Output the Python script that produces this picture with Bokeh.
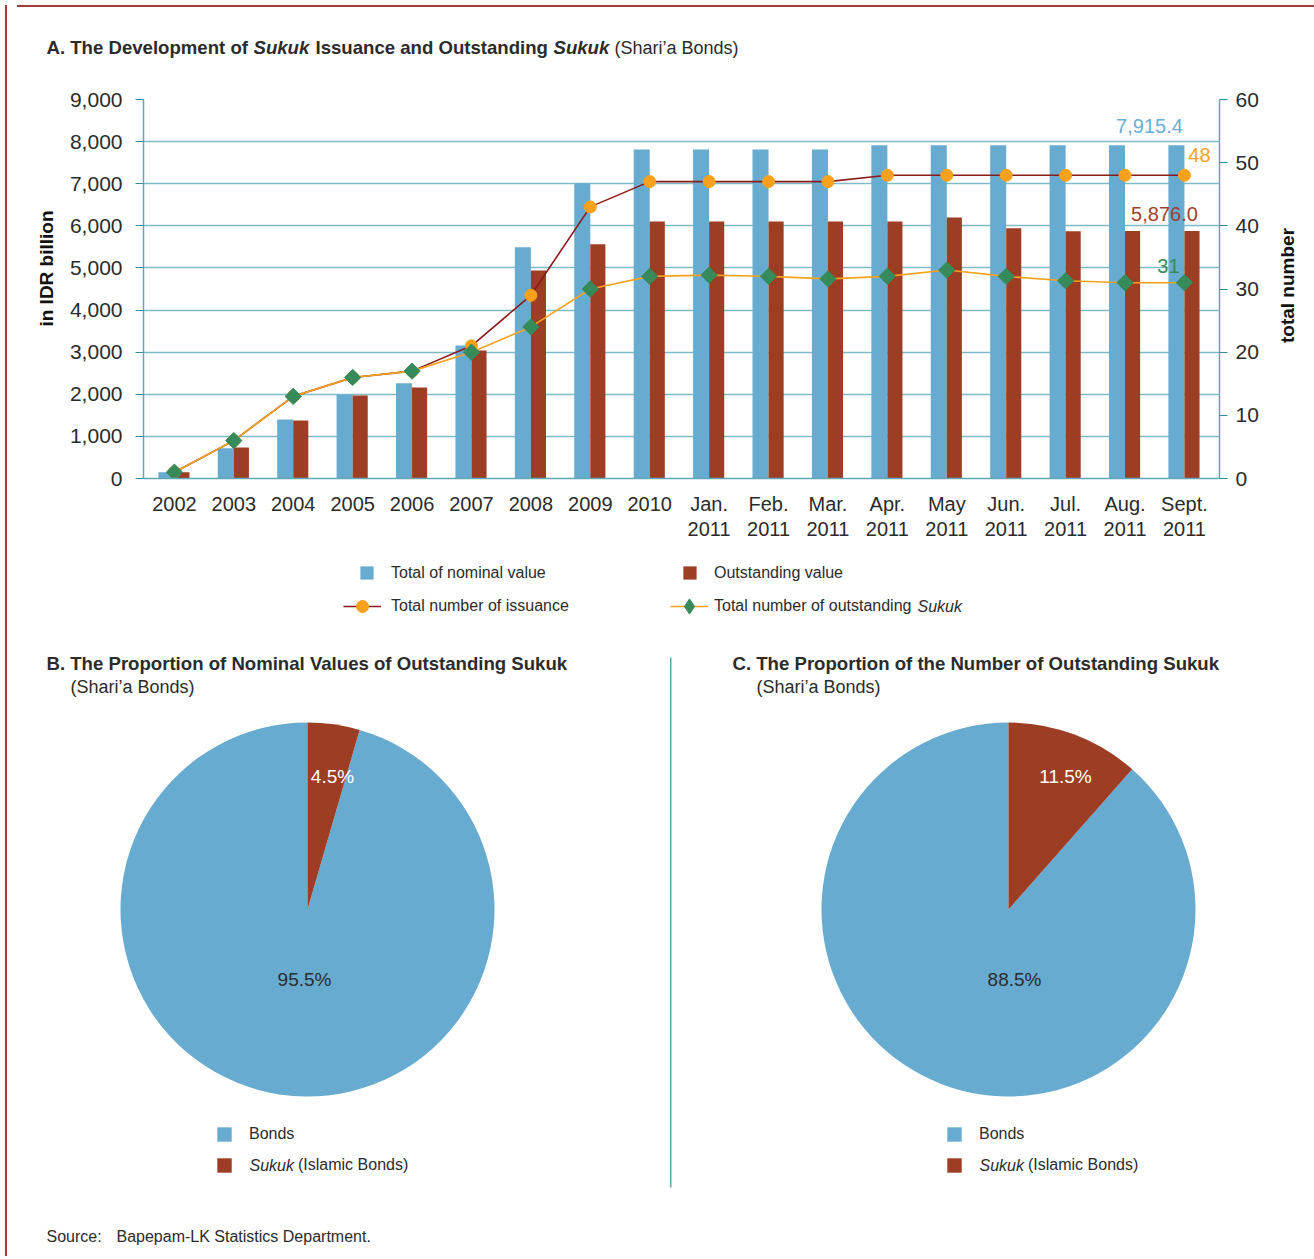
import math
from bokeh.plotting import figure
from bokeh.models import (Range1d, LinearAxis, Label, Legend, LegendItem, ColumnDataSource,
                          FixedTicker, NumeralTickFormatter, BoxAnnotation, Div)
from bokeh.layouts import column, row
from bokeh.transform import dodge
from bokeh.embed import file_html
from bokeh.resources import INLINE

# ---------------- data ----------------
periods = ["2002", "2003", "2004", "2005", "2006", "2007", "2008", "2009", "2010",
           "Jan.\n2011", "Feb.\n2011", "Mar.\n2011", "Apr.\n2011", "May\n2011",
           "Jun.\n2011", "Jul.\n2011", "Aug.\n2011", "Sept.\n2011"]
nominal_value = [150, 720, 1400, 1995, 2260, 3160, 5490, 7010, 7815, 7815, 7815, 7815,
                 7915.4, 7915.4, 7915.4, 7915.4, 7915.4, 7915.4]
outstanding_value = [150, 736, 1380, 1970, 2160, 3040, 4940, 5560, 6105, 6105, 6105, 6105,
                     6105, 6200, 5940, 5870, 5876.0, 5876.0]
issuance_count = [1, 6, 13, 16, 17, 21, 29, 43, 47, 47, 47, 47, 48, 48, 48, 48, 48, 48]
outstanding_count = [1, 6, 13, 16, 17, 20, 24, 30, 32, 32.2, 32, 31.6, 32, 33, 32, 31.3, 31, 31]
left_ticks = [0, 1000, 2000, 3000, 4000, 5000, 6000, 7000, 8000, 9000]
right_ticks = [0, 10, 20, 30, 40, 50, 60]

pie_labels = ["Bonds", "Sukuk (Islamic Bonds)"]
pie_b_share = [95.5, 4.5]
pie_c_share = [88.5, 11.5]

# ---------------- style ----------------
FONT = "Liberation Sans"
BLUE = "#67abd1"
RED = "#9c3d24"
DARKRED = "#8b1a1a"
ORANGE = "#f7a11c"
GREEN = "#378a5a"
TEAL = "#5fa8b5"
GRID = "#7dbcc7"
TXT = "#2b2b2b"
BORDER = "#a83a3a"

W = 1304
LLAB_W = 45                    # strip left of the chart holding "in IDR billion"
RLAB_W = 45                    # strip right of the chart holding "total number"
HEAD_H, BAR_H, LEG_H, BOT_H = 70, 468, 85, 626
HEAD_Y0 = 10
BAR_Y0 = HEAD_Y0 + HEAD_H      # 80
LEG_Y0 = BAR_Y0 + BAR_H        # 548
BOT_Y0 = LEG_Y0 + LEG_H        # 633
FL, FR, FT, FB = 141, 1217, 97, 476
LLAB_X1 = 10 + LLAB_W          # 55
RLAB_X0 = 1314 - RLAB_W        # 1269


def no_align(p):
    try:
        p.frame_align = False
    except Exception:
        pass


def canvas_fig(y0, h, x0=10, w=W):
    """figure whose frame is its whole canvas; data x = page x, data y = -page y"""
    p = figure(width=w, height=h, x_range=Range1d(x0, x0 + w), y_range=Range1d(-(y0 + h), -y0),
               output_backend="svg", toolbar_location=None, x_axis_location=None,
               y_axis_location=None, min_border=0, min_border_left=0, min_border_right=0,
               min_border_top=0, min_border_bottom=0)
    p.outline_line_color = None
    p.xgrid.visible = False
    p.ygrid.visible = False
    no_align(p)
    return p


def text(p, px, py, s, size="18.6px", style="normal", color=TXT, align="left", angle=0.0):
    p.add_layout(Label(x=px, y=-py, text=s, text_font=FONT, text_font_size=size,
                       text_font_style=style, text_color=color, text_align=align,
                       text_baseline="middle", angle=angle))


def one_legend(p, y0, h, label, renderers, glyph_left, row_center, gw, gh, standoff, size="16px"):
    lg = Legend(items=[LegendItem(label=label, renderers=renderers)],
                location=(int(glyph_left - 10), int(round((y0 + h) - (row_center + gh / 2)))),
                glyph_width=int(gw), glyph_height=int(gh), label_standoff=int(standoff),
                padding=0, margin=0, spacing=0, border_line_color=None, background_fill_alpha=0,
                label_text_font=FONT, label_text_font_size=size, label_text_color=TXT,
                label_height=int(gh), label_text_baseline="middle")
    p.add_layout(lg, "center")
    return lg


# ---------------- header (title A) ----------------
head = canvas_fig(HEAD_Y0, HEAD_H)
text(head, 44, 45, "A. The Development of", style="bold")
text(head, 251, 45, "Sukuk", style="bold italic")
text(head, 313, 45, "Issuance and Outstanding", style="bold")
text(head, 551, 45, "Sukuk", style="bold italic")
text(head, 612, 45, "(Shari\u2019a Bonds)", size="18px")

# ---------------- bar / line chart ----------------
top = figure(width=W - LLAB_W - RLAB_W, height=BAR_H, x_range=Range1d(-0.52, 17.59),
             y_range=Range1d(0, 9000), output_backend="svg", toolbar_location=None,
             min_border_left=FL - LLAB_X1, min_border_right=RLAB_X0 - FR,
             min_border_top=FT - BAR_Y0, min_border_bottom=LEG_Y0 - FB)
no_align(top)
top.extra_y_ranges = {"right": Range1d(0, 60)}
top.outline_line_color = None

src = ColumnDataSource(dict(x=list(range(len(periods))), nom=nominal_value, out=outstanding_value,
                            iss=issuance_count, outc=outstanding_count))

top.vbar(x=dodge("x", -0.135), top="nom", width=0.27, source=src, fill_color=BLUE, line_color=None)
top.vbar(x=dodge("x", 0.127), top="out", width=0.254, source=src, fill_color=RED, line_color=None)
top.line("x", "iss", source=src, y_range_name="right", line_color=DARKRED, line_width=1.6)
top.scatter("x", "iss", source=src, y_range_name="right", marker="circle", size=12,
            fill_color=ORANGE, line_color=ORANGE)
top.line("x", "outc", source=src, y_range_name="right", line_color=ORANGE, line_width=1.6)
top.scatter("x", "outc", source=src, y_range_name="right", marker="square", angle=math.pi / 4,
            size=11.5, fill_color=GREEN, line_color=GREEN)

xa = top.xaxis[0]
xa.ticker = FixedTicker(ticks=list(range(len(periods))))
xa.major_label_overrides = {i: s for i, s in enumerate(periods)}
xa.major_tick_line_color = None
xa.minor_tick_line_color = None
xa.axis_line_color = TEAL
xa.axis_line_width = 1.5
xa.major_label_standoff = 8
xa.major_label_text_font = FONT
xa.major_label_text_font_size = "20px"
xa.major_label_text_color = TXT
xa.major_label_text_line_height = 1.15

ya = top.yaxis[0]
ya.ticker = FixedTicker(ticks=left_ticks)
ya.formatter = NumeralTickFormatter(format="0,0")
ra = LinearAxis(y_range_name="right", ticker=FixedTicker(ticks=right_ticks))
top.add_layout(ra, "right")
for ax, so in ((ya, 13), (ra, 8)):
    ax.axis_line_color = TEAL
    ax.axis_line_width = 1.5
    ax.major_tick_line_color = "#2f8d9c"
    ax.major_tick_out = 8
    ax.major_tick_in = 0
    ax.minor_tick_line_color = None
    ax.major_label_text_font = FONT
    ax.major_label_text_font_size = "21px"
    ax.major_label_text_color = TXT
    ax.major_label_standoff = so

top.xgrid.visible = False
top.ygrid.ticker = FixedTicker(ticks=left_ticks)
top.ygrid.grid_line_color = GRID
top.ygrid.grid_line_width = 1.5

last = len(periods) - 1
for yv, rng, xo, yo, s, col in (
        (nominal_value[last], "default", -35, 19, f"{nominal_value[last]:,.1f}", "#6aaed6"),
        (issuance_count[last], "right", 15, 20, f"{issuance_count[last]}", ORANGE),
        (outstanding_value[last], "default", -20, 17, f"{outstanding_value[last]:,.1f}", "#a0402a"),
        (outstanding_count[last], "right", -16, 17, f"{outstanding_count[last]:.0f}", GREEN)):
    top.add_layout(Label(x=last, y=yv, y_range_name=rng, x_offset=xo, y_offset=yo, text=s,
                         text_font=FONT, text_font_size="20px", text_color=col,
                         text_align="center", text_baseline="middle"))

# axis title strips
llab = canvas_fig(BAR_Y0, BAR_H, x0=10, w=LLAB_W)
text(llab, 44, 266, "in IDR billion", size="19px", style="bold", color="#111111",
     align="center", angle=math.pi / 2)
rlab = canvas_fig(BAR_Y0, BAR_H, x0=RLAB_X0, w=RLAB_W)
text(rlab, 1285, 283, "total number", size="19px", style="bold", color="#111111",
     align="center", angle=math.pi / 2)

# ---------------- legend strip ----------------
NAN = [float("nan")]
leg = canvas_fig(LEG_Y0, LEG_H)
d_nom = leg.scatter(x=NAN, y=NAN, marker="square", fill_color=BLUE, line_color=None)
d_out = leg.scatter(x=NAN, y=NAN, marker="square", fill_color=RED, line_color=None)
d_l1 = leg.line(x=NAN, y=NAN, line_color=DARKRED, line_width=1.6)
d_s1 = leg.scatter(x=NAN, y=NAN, marker="circle", fill_color=ORANGE, line_color=ORANGE)
d_l2 = leg.line(x=NAN, y=NAN, line_color=ORANGE, line_width=1.6)
d_s2 = leg.scatter(x=NAN, y=NAN, marker="diamond", fill_color=GREEN, line_color=GREEN)
one_legend(leg, LEG_Y0, LEG_H, "Total of nominal value", [d_nom], 348, 571, 33, 33, 8)
one_legend(leg, LEG_Y0, LEG_H, "Outstanding value", [d_out], 671, 571, 33, 33, 8)
one_legend(leg, LEG_Y0, LEG_H, "Total number of issuance", [d_l1, d_s1], 341, 604, 38, 30, 10)
one_legend(leg, LEG_Y0, LEG_H, "Total number of outstanding", [d_l2, d_s2], 668, 604, 38, 38, 6)
text(leg, 915, 604, "Sukuk", size="16px", style="italic")

# ---------------- pies ----------------
bot = canvas_fig(BOT_Y0, BOT_H)


def pie(cx, cy, shares, sukuk_off, bonds_off):
    r = 187
    a_top = math.pi / 2
    a_split = math.radians(90 - shares[1] * 3.6)
    w_b = bot.wedge(x=[cx], y=[-cy], radius=r, start_angle=[a_top], end_angle=[a_split],
                    fill_color=BLUE, line_color=None)
    w_s = bot.wedge(x=[cx], y=[-cy], radius=r, start_angle=[a_split], end_angle=[a_top],
                    fill_color=RED, line_color=None)
    text(bot, cx + sukuk_off[0], cy + sukuk_off[1], f"{shares[1]:.1f}%", size="19px",
         color="white", align="center")
    text(bot, cx + bonds_off[0], cy + bonds_off[1], f"{shares[0]:.1f}%", size="19px", align="center")
    return w_b, w_s


wb1, ws1 = pie(305, 907, pie_b_share, (25, -133), (-3, 70))
wb2, ws2 = pie(1006, 907, pie_c_share, (57, -133), (6, 70))


def pie_legend(sw_left, wb, ws):
    one_legend(bot, BOT_Y0, BOT_H, pie_labels[0], [wb], sw_left, 1132, 18, 18, 16)
    one_legend(bot, BOT_Y0, BOT_H, pie_labels[1].replace("Sukuk ", ""), [ws], sw_left, 1163, 18, 18, 65)
    text(bot, sw_left + 34, 1163, pie_labels[1].split(" ")[0], size="16px", style="italic")


pie_legend(213, wb1, ws1)
pie_legend(943, wb2, ws2)

text(bot, 44, 661, "B. The Proportion of Nominal Values of Outstanding Sukuk", style="bold")
text(bot, 68, 684, "(Shari\u2019a Bonds)", size="18px")
text(bot, 730, 661, "C. The Proportion of the Number of Outstanding Sukuk", style="bold")
text(bot, 754, 684, "(Shari\u2019a Bonds)", size="18px")
text(bot, 44, 1234, "Source:", size="16px")
text(bot, 114, 1234, "Bapepam-LK Statistics Department.", size="16px")

bot.add_layout(BoxAnnotation(left=667.5, right=669, top=-655, bottom=-1185,
                             fill_color=TEAL, fill_alpha=1, line_color=None))

# ---------------- layout ----------------
left_border = Div(width=2, height=2 + HEAD_H + BAR_H + LEG_H + BOT_H, styles={"background-color": BORDER})
top_border = Div(width=W, height=2, styles={"background-color": BORDER})
layout = row(left_border,
             column(top_border, head, row(llab, top, rlab, spacing=0), leg, bot, spacing=0),
             spacing=0)

open("out.html", "w").write(file_html(layout, INLINE))
